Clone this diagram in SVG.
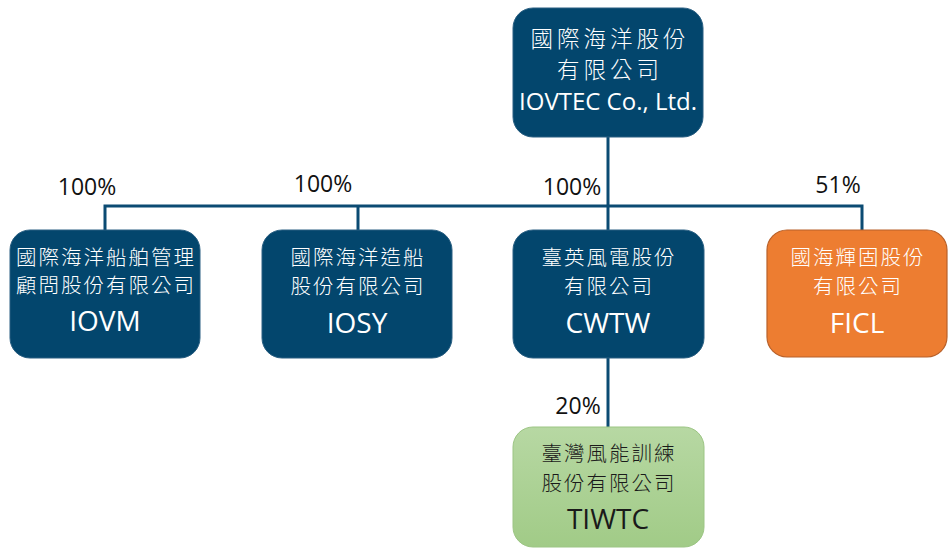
<svg xmlns="http://www.w3.org/2000/svg" width="948" height="549" viewBox="0 0 948 549">
<defs>
<linearGradient id="gg" x1="0" y1="0" x2="0" y2="1">
<stop offset="0" stop-color="#B7D8A3"/>
<stop offset="1" stop-color="#A1CB87"/>
</linearGradient>
<style>
.blue{fill:#03466D;stroke:#2A5F82;stroke-width:1}
.orange{fill:#ED7D31;stroke:#B8612A;stroke-width:1.2}
.green{fill:url(#gg);stroke:#9CC584;stroke-width:1}
text{font-family:"Open Sans","Noto Sans CJK TC",sans-serif;text-anchor:middle;dominant-baseline:central}
.w{fill:#FFFFFF}
.d{fill:#1A1A1A}
.cj{font-family:"Noto Sans CJK TC",sans-serif;font-weight:300;font-size:20.5px;letter-spacing:2px}
.cjt{font-family:"Noto Sans CJK TC",sans-serif;font-weight:300;font-size:22.5px;letter-spacing:4px}
.en{font-size:28px}
.ent{font-size:24px}
.pct{font-size:23px;fill:#111111}
.ln{stroke:#0B4B73;stroke-width:3;fill:none}
</style>
</defs>
<g id="connectors">
<path class="ln" d="M608,137 V230"/>
<path class="ln" d="M105,230 V206 H862 V230"/>
<path class="ln" d="M358,206 V230"/>
<path class="ln" d="M608,358 V427"/>
</g>
<g id="labels">
<text class="pct" x="87" y="186">100%</text>
<text class="pct" x="323" y="183">100%</text>
<text class="pct" x="572" y="186">100%</text>
<text class="pct" x="838" y="184">51%</text>
<text class="pct" x="578" y="405">20%</text>
</g>
<g id="iovtec">
<rect class="blue" x="513" y="8" width="190" height="129" rx="20"/>
<text class="w cjt" x="610" y="36.5">國際海洋股份</text>
<text class="w cjt" x="610" y="68">有限公司</text>
<text class="w ent" x="608" y="100">IOVTEC Co., Ltd.</text>
</g>
<g id="iovm">
<rect class="blue" x="10" y="230" width="190" height="128" rx="20"/>
<text class="w cj" x="106" y="255.5">國際海洋船舶管理</text>
<text class="w cj" x="106" y="284">顧問股份有限公司</text>
<text class="w en" x="105" y="320">IOVM</text>
</g>
<g id="iosy">
<rect class="blue" x="262" y="230" width="190" height="128" rx="20"/>
<text class="w cj" x="358" y="256">國際海洋造船</text>
<text class="w cj" x="358" y="285">股份有限公司</text>
<text class="w en" x="357" y="322">IOSY</text>
</g>
<g id="cwtw">
<rect class="blue" x="513" y="230" width="191" height="128" rx="20"/>
<text class="w cj" x="609" y="256">臺英風電股份</text>
<text class="w cj" x="609" y="285">有限公司</text>
<text class="w en" x="608" y="322">CWTW</text>
</g>
<g id="ficl">
<rect class="orange" x="767" y="230" width="180" height="127" rx="20"/>
<text class="w cj" x="858" y="256">國海輝固股份</text>
<text class="w cj" x="858" y="285">有限公司</text>
<text class="w en" x="857" y="322">FICL</text>
</g>
<g id="tiwtc">
<rect class="green" x="513" y="427" width="191" height="120" rx="20"/>
<text class="d cj" x="609" y="452">臺灣風能訓練</text>
<text class="d cj" x="609" y="482">股份有限公司</text>
<text class="d en" x="608" y="518">TIWTC</text>
</g>
</svg>
